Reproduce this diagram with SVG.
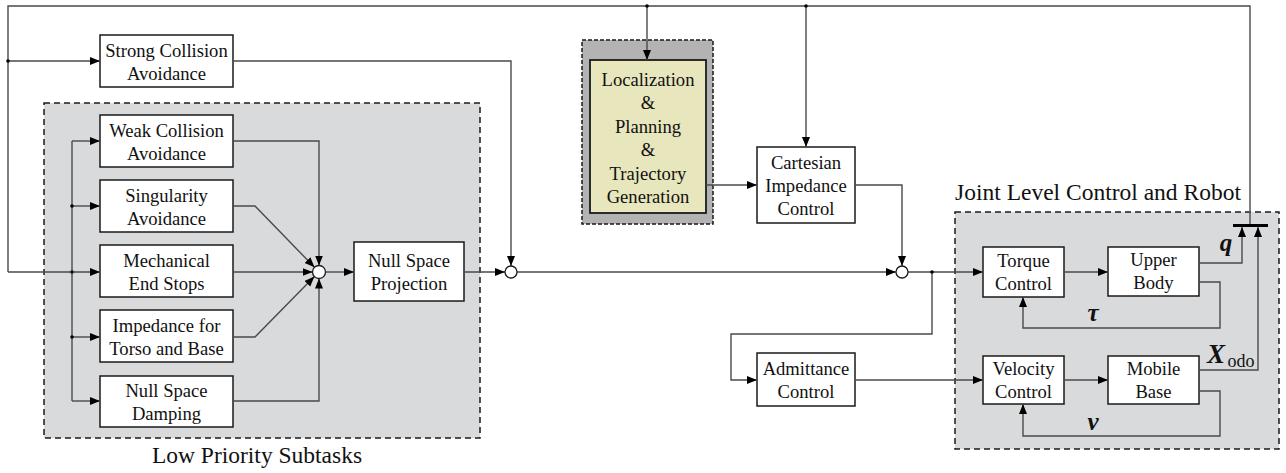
<svg xmlns="http://www.w3.org/2000/svg" width="1286" height="473" viewBox="0 0 1286 473">
<defs>
<marker id="ah" markerUnits="userSpaceOnUse" markerWidth="11" markerHeight="9" refX="10" refY="4" orient="auto">
<path d="M0,0 L10,4 L0,8 z" fill="#000"/>
</marker>
<style>
text{font-family:"Liberation Serif","Times New Roman",serif;fill:#111;text-anchor:middle}
.t{font-size:18.6px}
.lbl{font-size:23.5px}
.box{fill:#fff;stroke:#1a1a1a;stroke-width:1.5}
.grp{fill:#d9dadc;stroke:#1a1a1a;stroke-width:1.5;stroke-dasharray:6,4}
.ln{fill:none;stroke:#4a4a4a;stroke-width:1.4}
.ar{marker-end:url(#ah)}
.dot{fill:#000}
.sum{fill:#fff;stroke:#1a1a1a;stroke-width:1.3}
.mi{font-weight:bold;font-style:italic;font-size:25px}
</style>
</defs>
<rect width="1286" height="473" fill="#fff"/>

<g id="low-priority-group">
<rect class="grp" x="44" y="103" width="436" height="335"/>
<text class="lbl" x="257" y="463">Low Priority Subtasks</text>
</g>
<g id="joint-level-group">
<rect class="grp" x="955" y="212" width="324" height="237"/>
<text class="lbl" x="1098" y="200">Joint Level Control and Robot</text>
</g>

<g id="strong-collision">
<rect class="box" x="100" y="35" width="133" height="52"/>
<text class="t" x="166.5" y="57">Strong Collision</text>
<text class="t" x="166.5" y="80">Avoidance</text>
</g>
<g id="weak-collision">
<rect class="box" x="100" y="115" width="133" height="52"/>
<text class="t" x="166.5" y="137">Weak Collision</text>
<text class="t" x="166.5" y="160">Avoidance</text>
</g>
<g id="singularity">
<rect class="box" x="100" y="180" width="133" height="52"/>
<text class="t" x="166.5" y="202">Singularity</text>
<text class="t" x="166.5" y="225">Avoidance</text>
</g>
<g id="mechanical">
<rect class="box" x="100" y="245" width="133" height="52"/>
<text class="t" x="166.5" y="267">Mechanical</text>
<text class="t" x="166.5" y="290">End Stops</text>
</g>
<g id="impedance-torso">
<rect class="box" x="100" y="310" width="133" height="52"/>
<text class="t" x="166.5" y="332">Impedance for</text>
<text class="t" x="166.5" y="355">Torso and Base</text>
</g>
<g id="null-damping">
<rect class="box" x="100" y="376" width="133" height="51"/>
<text class="t" x="166.5" y="397">Null Space</text>
<text class="t" x="166.5" y="420">Damping</text>
</g>
<g id="null-projection">
<rect class="box" x="354" y="242" width="110" height="59"/>
<text class="t" x="409" y="267">Null Space</text>
<text class="t" x="409" y="290">Projection</text>
</g>
<g id="localization">
<rect x="582" y="40" width="131" height="184" fill="#b3b3b3" stroke="#1a1a1a" stroke-width="1.5" stroke-dasharray="4,2"/>
<rect x="590" y="60" width="116" height="153" fill="#e8e6bc" stroke="#1a1a1a" stroke-width="1.8"/>
<text class="t" x="648" y="86">Localization</text>
<text class="t" x="648" y="109">&amp;</text>
<text class="t" x="648" y="133">Planning</text>
<text class="t" x="648" y="156">&amp;</text>
<text class="t" x="648" y="180">Trajectory</text>
<text class="t" x="648" y="203">Generation</text>
</g>
<g id="cartesian">
<rect class="box" x="757" y="147" width="98" height="76"/>
<text class="t" x="806" y="169">Cartesian</text>
<text class="t" x="806" y="192">Impedance</text>
<text class="t" x="806" y="215">Control</text>
</g>
<g id="admittance">
<rect class="box" x="757" y="353" width="98" height="53"/>
<text class="t" x="806" y="375">Admittance</text>
<text class="t" x="806" y="398">Control</text>
</g>
<g id="torque">
<rect class="box" x="983" y="247" width="81" height="50"/>
<text class="t" x="1023.5" y="267">Torque</text>
<text class="t" x="1023.5" y="290">Control</text>
</g>
<g id="upper-body">
<rect class="box" x="1108" y="247" width="91" height="49"/>
<text class="t" x="1153.5" y="266">Upper</text>
<text class="t" x="1153.5" y="289">Body</text>
</g>
<g id="velocity">
<rect class="box" x="983" y="356" width="81" height="48"/>
<text class="t" x="1023.5" y="375">Velocity</text>
<text class="t" x="1023.5" y="398">Control</text>
</g>
<g id="mobile-base">
<rect class="box" x="1108" y="356" width="91" height="48"/>
<text class="t" x="1153.5" y="375">Mobile</text>
<text class="t" x="1153.5" y="398">Base</text>
</g>

<g id="connectors">
<polyline class="ln" points="8,272 8,6 1250,6 1250,224"/>
<line class="ln ar" x1="8" y1="272" x2="100" y2="272"/>
<line class="ln ar" x1="8" y1="61" x2="100" y2="61"/>
<line class="ln" x1="72" y1="141" x2="72" y2="401"/>
<line class="ln ar" x1="72" y1="141" x2="100" y2="141"/>
<line class="ln ar" x1="72" y1="206" x2="100" y2="206"/>
<line class="ln ar" x1="72" y1="337" x2="100" y2="337"/>
<line class="ln ar" x1="72" y1="401" x2="100" y2="401"/>
<polyline class="ln ar" points="233,141 319,141 319,265.5"/>
<polyline class="ln ar" points="233,206 255,206 314.5,267.3"/>
<line class="ln ar" x1="233" y1="272" x2="312.5" y2="272"/>
<polyline class="ln ar" points="233,337 255,337 314.4,276.6"/>
<polyline class="ln ar" points="233,401 319,401 319,278.5"/>
<line class="ln ar" x1="325.5" y1="272" x2="354" y2="272"/>
<line class="ln ar" x1="464" y1="272" x2="505" y2="272"/>
<polyline class="ln ar" points="233,61 511,61 511,266"/>
<line class="ln ar" x1="517" y1="272" x2="896" y2="272"/>
<polyline class="ln ar" points="855,185 902,185 902,266"/>
<line class="ln ar" x1="647" y1="6" x2="647" y2="60"/>
<line class="ln ar" x1="706" y1="185" x2="757" y2="185"/>
<line class="ln ar" x1="806" y1="6" x2="806" y2="147"/>
<line class="ln ar" x1="908" y1="272" x2="983" y2="272"/>
<polyline class="ln ar" points="932,272 932,334 731,334 731,380 757,380"/>
<line class="ln ar" x1="855" y1="380" x2="983" y2="380"/>
<line class="ln ar" x1="1064" y1="272" x2="1108" y2="272"/>
<line class="ln ar" x1="1064" y1="380" x2="1108" y2="380"/>
<polyline class="ln ar" points="1199,282 1220,282 1220,328 1023,328 1023,297"/>
<polyline class="ln ar" points="1199,391 1220,391 1220,436 1023,436 1023,404"/>
<polyline class="ln ar" points="1199,263 1242,263 1242,227"/>
<polyline class="ln ar" points="1199,370 1258,370 1258,227"/>
<line x1="1233" y1="225.5" x2="1268" y2="225.5" stroke="#000" stroke-width="3"/>
<circle class="dot" cx="8" cy="61" r="1.8"/>
<circle class="dot" cx="72" cy="206" r="1.8"/>
<circle class="dot" cx="72" cy="272" r="1.8"/>
<circle class="dot" cx="72" cy="337" r="1.8"/>
<circle class="dot" cx="647" cy="6" r="1.8"/>
<circle class="dot" cx="806" cy="6" r="1.8"/>
<circle class="dot" cx="932" cy="272" r="1.8"/>
<circle class="sum" cx="319" cy="272" r="6.5"/>
<circle class="sum" cx="511" cy="272" r="6"/>
<circle class="sum" cx="902" cy="272" r="6"/>
<text class="mi" x="1226" y="251">q</text>
<text class="mi" x="1093" y="321">τ</text>
<text class="mi" x="1093" y="430">v</text>
<text class="mi" x="1216" y="363" style="font-size:27px">X</text>
<text x="1241" y="367" style="font-size:18px">odo</text>
</g>
</svg>
